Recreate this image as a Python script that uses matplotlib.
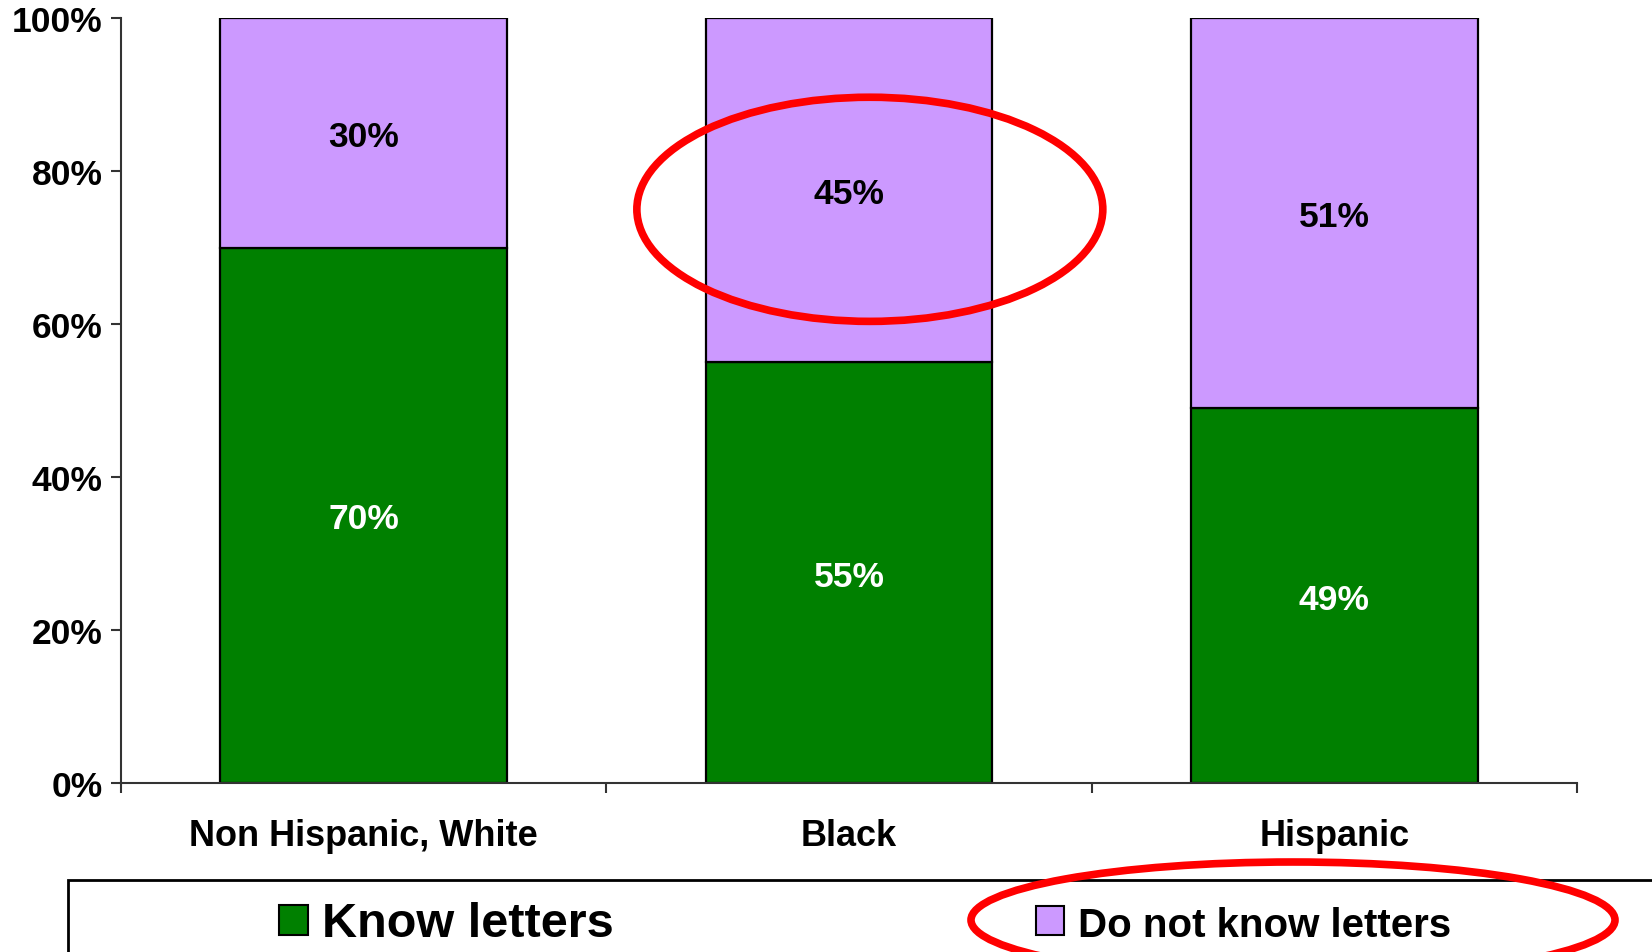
#%%
# stacked bar: letter knowledge by race / ethnicity

# IMPORTS #######################################

import matplotlib
matplotlib.use('Agg')
import matplotlib.pyplot as plt
from matplotlib.patches import Ellipse, Rectangle
import numpy as np

# SETUP #########################################

plt.rcParams.update({
    'font.family': ['Liberation Sans', 'DejaVu Sans'],
    'font.weight': 'bold',
    'font.size': 25.5,
})

# DATA ##########################################

categories = ['Non Hispanic, White', 'Black', 'Hispanic']
know_letters = [70, 55, 49]
not_know_letters = [30, 45, 51]
series_names = ['Know letters', 'Do not know letters']
y_ticks = [0, 20, 40, 60, 80, 100]

# FIGURE ########################################

fig = plt.figure(figsize=(16.52, 9.53), dpi=100)
ax = fig.add_axes([0.0732, 0.1773, 0.8814, 0.8027])

green = '#008000'
purple = '#CC99FF'

x = np.arange(len(categories))
width = 0.59

ax.bar(x, know_letters, width, color=green, edgecolor='black', linewidth=1.6)
ax.bar(x, not_know_letters, width, bottom=know_letters,
       color=purple, edgecolor='black', linewidth=1.6)

# value labels
for xi, k, n in zip(x, know_letters, not_know_letters):
    ax.text(xi, k / 2, f'{k}%', ha='center', va='center_baseline',
            color='white', fontsize=25.5, fontweight='bold')
    ax.text(xi, k + n / 2, f'{n}%', ha='center', va='center_baseline',
            color='black', fontsize=25.5, fontweight='bold')

# AXIS LIMITS ################

ax.set_xlim(-0.5, len(categories) - 0.5)
ax.set_ylim(0, 100)

# TICKS AND LABELS ###########

ax.set_yticks(y_ticks)
ax.set_yticklabels([f'{v}%' for v in y_ticks])
ax.tick_params(axis='y', direction='out', length=7, width=1.5,
               pad=6, color='#333333')

ax.set_xticks(np.arange(len(categories) + 1) - 0.5)
ax.set_xticklabels([])
ax.tick_params(axis='x', which='major', direction='out', length=7,
               width=1.5, color='#333333')
ax.set_xticks(x, minor=True)
ax.set_xticklabels(categories, minor=True, fontsize=26)
ax.tick_params(axis='x', which='minor', length=0, pad=25)

for side in ['top', 'right']:
    ax.spines[side].set_visible(False)
for side in ['left', 'bottom']:
    ax.spines[side].set_color('#333333')
    ax.spines[side].set_linewidth(1.5)

# HIGHLIGHT ##################

ax.add_patch(Ellipse((1.043, 75.0), 0.96, 29.3, fill=False,
                     edgecolor='#FF0000', linewidth=5.5, clip_on=False,
                     zorder=5))

# LEGEND (drawn by hand) #####

W, H = 1652, 953
def fx(px):
    return px / W
def fy(py):
    return 1 - py / H

fig.patches.append(Rectangle((fx(68), fy(960)), fx(1700) - fx(68),
                             fy(881) - fy(960), transform=fig.transFigure,
                             fill=False, edgecolor='black', linewidth=2))

fig.patches.append(Rectangle((fx(279), fy(936)), fx(29), fy(906) - fy(936),
                             transform=fig.transFigure, facecolor=green,
                             edgecolor='black', linewidth=1.5))
fig.text(fx(322), fy(925), series_names[0], fontsize=35,
         fontweight='bold', va='center', ha='left')

fig.patches.append(Rectangle((fx(1036), fy(936)), fx(28), fy(907) - fy(936),
                             transform=fig.transFigure, facecolor=purple,
                             edgecolor='black', linewidth=1.5))
fig.text(fx(1078), fy(926), series_names[1], fontsize=29,
         fontweight='bold', va='center', ha='left')

fig.patches.append(Ellipse((fx(1293), fy(921)), fx(644), 116 / H,
                           transform=fig.transFigure, fill=False,
                           edgecolor='#FF0000', linewidth=5.5))

# EXPORT #########################################

fig.savefig('out.png', dpi=100)
